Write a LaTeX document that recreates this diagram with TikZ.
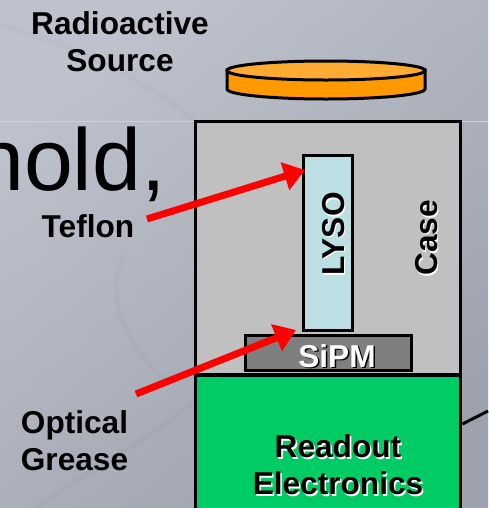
\documentclass[tikz,border=0pt]{standalone}
\usepackage{fontspec}
\setmainfont{Liberation Sans}
\usetikzlibrary{arrows.meta}
\definecolor{slidelight}{HTML}{BEC2CC}
\definecolor{slidedark}{HTML}{9DA2AE}
\definecolor{casegray}{HTML}{C0C0C0}
\definecolor{lysoblue}{HTML}{BBDFE3}
\definecolor{sipmgray}{HTML}{7F7F7F}
\definecolor{readoutgreen}{HTML}{00CC66}
\definecolor{discorange}{HTML}{FF9900}
\definecolor{disctop}{HTML}{FFAB33}
\tikzset{
	part/.style={draw=black,line width=0.06cm,inner sep=0pt},
	lbl/.style={font=\bfseries\fontsize{18}{21}\selectfont,align=center,text=black},
	pointer/.style={-{Triangle[length=0.42cm,width=0.56cm]},red,line width=0.14cm},
	swoosh/.style={black,opacity=0.02,line width=0.1cm}
}

\begin{document}
\begin{tikzpicture}[x=0.02cm,y=-0.02cm]
	
	% Slide background
	\useasboundingbox (0,0) rectangle (488,508);
	\shade[bottom color=slidedark,top color=slidelight,shading angle=40] (0,0) rectangle (488,508);
	\draw[swoosh] (0,25) .. controls (70,45) and (140,75) .. (195,121);
	\draw[swoosh] (35,508) .. controls (90,470) and (150,440) .. (195,400);
	\draw[swoosh] (125,254) .. controls (105,290) and (120,340) .. (165,380);
	\draw[white!25!slidelight,line width=0.02cm] (0,121) -- (488,121);
	\node[anchor=base east,font=\fontsize{50}{50}\selectfont] (title) at (172,190) {hold,};
	
	% Draw source disc
	\draw[part,fill=discorange] (227,70) -- (227,89) arc[start angle=180,end angle=0,x radius=99,y radius=10] -- (425,70) -- cycle;
	\draw[part,fill=disctop] (326,70.5) ellipse[x radius=99,y radius=9.5];
	
	% Draw nodes
	\node[part,fill=casegray,minimum width=5.32cm,minimum height=5.08cm] (case) at (328,248) {};
	\begin{scope}
		\clip (0,0) rectangle (488,508);
		\node[part,fill=readoutgreen,minimum width=5.32cm,minimum height=3.4cm] (readout) at (328,460) {};
	\end{scope}
	\node[part,fill=sipmgray,minimum width=3.34cm,minimum height=0.7cm] (sipm) at (328.5,352.5) {};
	\node[part,fill=lysoblue,minimum width=0.98cm,minimum height=3.5cm] (lyso) at (328,243) {};
	
	% Draw labels
	\node[lbl] (source) at (120,42) {Radioactive\\Source};
	\node[lbl,anchor=base] (teflon) at (88,237) {Teflon};
	\node[lbl] (grease) at (74.5,441) {Optical\\Grease};
	\node[lbl,text=white,rotate=90,anchor=base] at (345.5,235.5) {LYSO};
	\node[lbl,rotate=90,anchor=base] (lysotext) at (344,234) {LYSO};
	\node[lbl,text=white,rotate=90,anchor=base] at (438.5,239.5) {Case};
	\node[lbl,rotate=90,anchor=base] (casetext) at (437,238) {Case};
	\node[lbl,anchor=base] at (338.5,368.5) {SiPM};
	\node[lbl,text=white,anchor=base] (sipmtext) at (337,367) {SiPM};
	\node[lbl,text=white] at (339.5,466.5) {Readout\\Electronics};
	\node[lbl] (readouttext) at (338,465) {Readout\\Electronics};
	
	% Draw pointers and the cable
	\coordinate (teflontail) at (147,219);
	\coordinate (teflontip) at (305,170);
	\coordinate (greasetail) at (136,394);
	\coordinate (greasetip) at (296,330);
	\coordinate (cableend) at (488,411);
	\draw[pointer] (teflontail) to (teflontip);
	\draw[pointer] (greasetail) to (greasetip);
	\draw[black,line width=0.06cm] (readout.east |- 0,424) to (cableend);
	
\end{tikzpicture}
\end{document}
